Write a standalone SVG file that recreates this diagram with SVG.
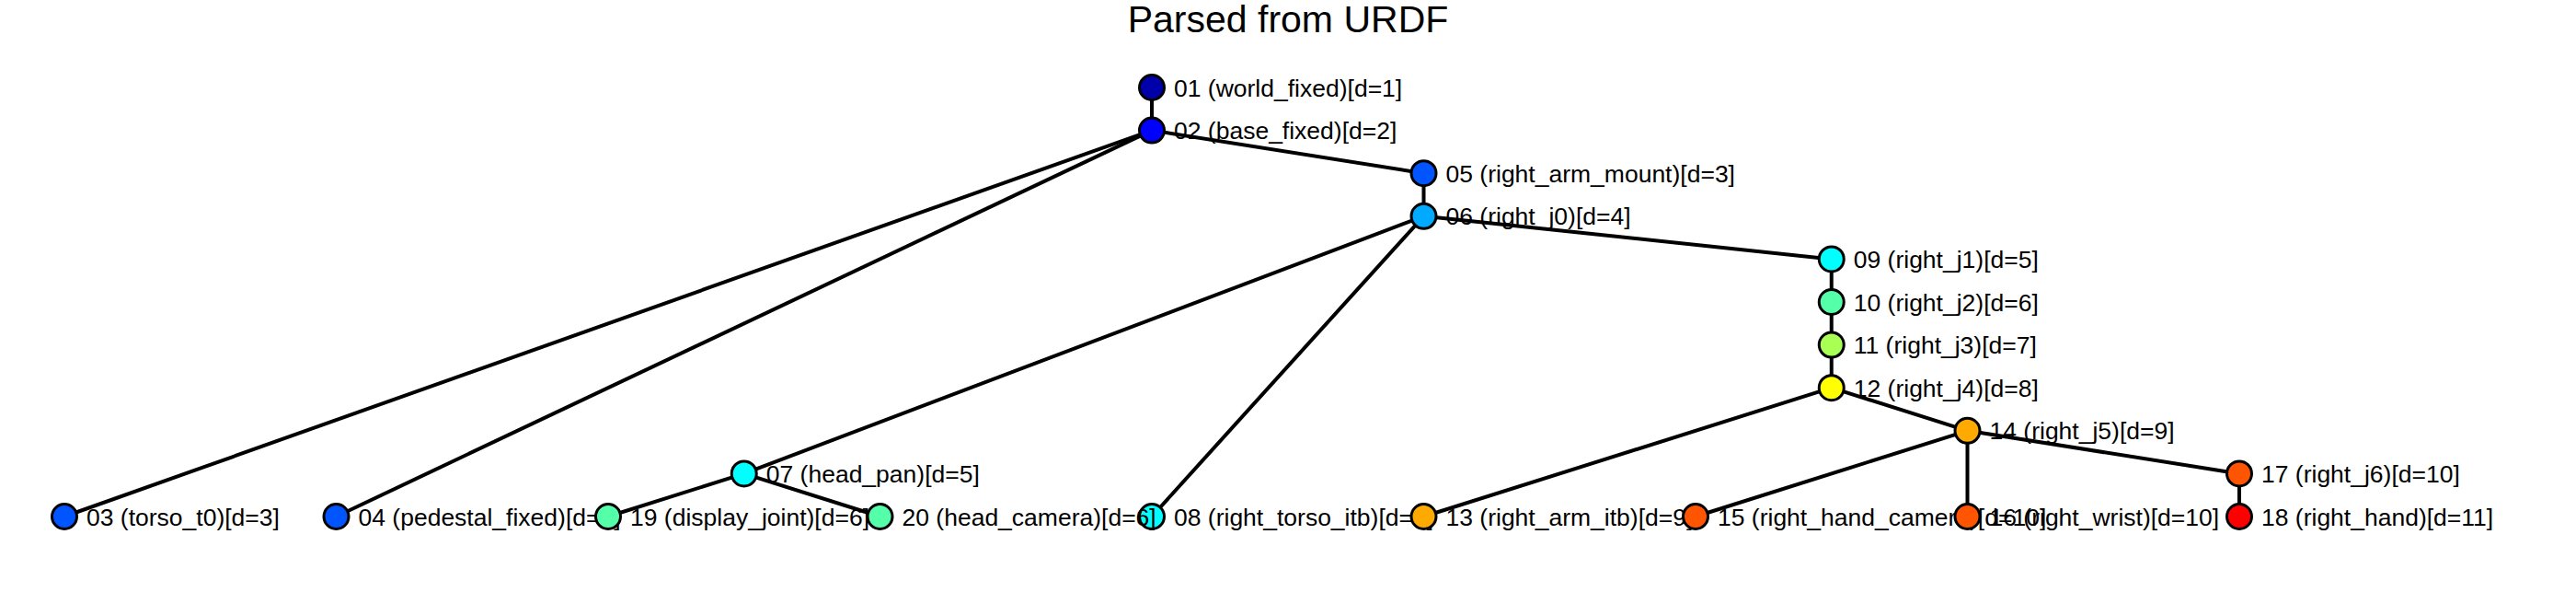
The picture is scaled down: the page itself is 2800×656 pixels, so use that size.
<svg xmlns="http://www.w3.org/2000/svg" width="2800" height="656" viewBox="0 0 2800 656">
<style>
.e{stroke:#000;stroke-width:4;stroke-linecap:round}
.n{stroke:#000;stroke-width:3}
.l{font-family:"Liberation Sans",Arial,Helvetica,sans-serif;font-size:26.5px;fill:#000}
.t{font-family:"Liberation Sans",Arial,Helvetica,sans-serif;font-size:41px;fill:#000;text-anchor:middle}
</style>
<rect width="2800" height="656" fill="#fff"/>
<text class="t" x="1400" y="35">Parsed from URDF</text>
<g id="edges">
<line class="e" x1="1252" y1="95" x2="1252" y2="141.6"/>
<line class="e" x1="1252" y1="141.6" x2="1547.5" y2="188.2"/>
<line class="e" x1="1252" y1="141.6" x2="70" y2="561"/>
<line class="e" x1="1252" y1="141.6" x2="365.5" y2="561"/>
<line class="e" x1="1547.5" y1="188.2" x2="1547.5" y2="234.8"/>
<line class="e" x1="1547.5" y1="234.8" x2="1990.75" y2="281.4"/>
<line class="e" x1="1547.5" y1="234.8" x2="808.75" y2="514.4"/>
<line class="e" x1="1547.5" y1="234.8" x2="1252" y2="561"/>
<line class="e" x1="808.75" y1="514.4" x2="661" y2="561"/>
<line class="e" x1="808.75" y1="514.4" x2="956.5" y2="561"/>
<line class="e" x1="1990.75" y1="281.4" x2="1990.75" y2="328"/>
<line class="e" x1="1990.75" y1="328" x2="1990.75" y2="374.6"/>
<line class="e" x1="1990.75" y1="374.6" x2="1990.75" y2="421.2"/>
<line class="e" x1="1990.75" y1="421.2" x2="1547.5" y2="561"/>
<line class="e" x1="1990.75" y1="421.2" x2="2138.5" y2="467.8"/>
<line class="e" x1="2138.5" y1="467.8" x2="1843" y2="561"/>
<line class="e" x1="2138.5" y1="467.8" x2="2138.5" y2="561"/>
<line class="e" x1="2138.5" y1="467.8" x2="2434" y2="514.4"/>
<line class="e" x1="2434" y1="514.4" x2="2434" y2="561"/>
</g>
<g id="n01"><circle class="n" cx="1252" cy="95" r="13.5" fill="#0000aa"/><text class="l" x="1276" y="104.5">01 (world_fixed)[d=1]</text></g>
<g id="n02"><circle class="n" cx="1252" cy="141.6" r="13.5" fill="#0000ff"/><text class="l" x="1276" y="151.1">02 (base_fixed)[d=2]</text></g>
<g id="n03"><circle class="n" cx="70" cy="561" r="13.5" fill="#0055ff"/><text class="l" x="94" y="570.5">03 (torso_t0)[d=3]</text></g>
<g id="n04"><circle class="n" cx="365.5" cy="561" r="13.5" fill="#0055ff"/><text class="l" x="389.5" y="570.5">04 (pedestal_fixed)[d=3]</text></g>
<g id="n05"><circle class="n" cx="1547.5" cy="188.2" r="13.5" fill="#0055ff"/><text class="l" x="1571.5" y="197.7">05 (right_arm_mount)[d=3]</text></g>
<g id="n06"><circle class="n" cx="1547.5" cy="234.8" r="13.5" fill="#00aaff"/><text class="l" x="1571.5" y="244.3">06 (right_j0)[d=4]</text></g>
<g id="n07"><circle class="n" cx="808.75" cy="514.4" r="13.5" fill="#00ffff"/><text class="l" x="832.75" y="523.9">07 (head_pan)[d=5]</text></g>
<g id="n08"><circle class="n" cx="1252" cy="561" r="13.5" fill="#00ffff"/><text class="l" x="1276" y="570.5">08 (right_torso_itb)[d=5]</text></g>
<g id="n09"><circle class="n" cx="1990.75" cy="281.4" r="13.5" fill="#00ffff"/><text class="l" x="2014.75" y="290.9">09 (right_j1)[d=5]</text></g>
<g id="n10"><circle class="n" cx="1990.75" cy="328" r="13.5" fill="#55ffaa"/><text class="l" x="2014.75" y="337.5">10 (right_j2)[d=6]</text></g>
<g id="n11"><circle class="n" cx="1990.75" cy="374.6" r="13.5" fill="#aaff55"/><text class="l" x="2014.75" y="384.1">11 (right_j3)[d=7]</text></g>
<g id="n12"><circle class="n" cx="1990.75" cy="421.2" r="13.5" fill="#ffff00"/><text class="l" x="2014.75" y="430.7">12 (right_j4)[d=8]</text></g>
<g id="n13"><circle class="n" cx="1547.5" cy="561" r="13.5" fill="#ffaa00"/><text class="l" x="1571.5" y="570.5">13 (right_arm_itb)[d=9]</text></g>
<g id="n14"><circle class="n" cx="2138.5" cy="467.8" r="13.5" fill="#ffaa00"/><text class="l" x="2162.5" y="477.3">14 (right_j5)[d=9]</text></g>
<g id="n15"><circle class="n" cx="1843" cy="561" r="13.5" fill="#ff5500"/><text class="l" x="1867" y="570.5">15 (right_hand_camera)[d=10]</text></g>
<g id="n16"><circle class="n" cx="2138.5" cy="561" r="13.5" fill="#ff5500"/><text class="l" x="2162.5" y="570.5">16 (right_wrist)[d=10]</text></g>
<g id="n17"><circle class="n" cx="2434" cy="514.4" r="13.5" fill="#ff5500"/><text class="l" x="2458" y="523.9">17 (right_j6)[d=10]</text></g>
<g id="n18"><circle class="n" cx="2434" cy="561" r="13.5" fill="#ff0000"/><text class="l" x="2458" y="570.5">18 (right_hand)[d=11]</text></g>
<g id="n19"><circle class="n" cx="661" cy="561" r="13.5" fill="#55ffaa"/><text class="l" x="685" y="570.5">19 (display_joint)[d=6]</text></g>
<g id="n20"><circle class="n" cx="956.5" cy="561" r="13.5" fill="#55ffaa"/><text class="l" x="980.5" y="570.5">20 (head_camera)[d=6]</text></g>
</svg>
